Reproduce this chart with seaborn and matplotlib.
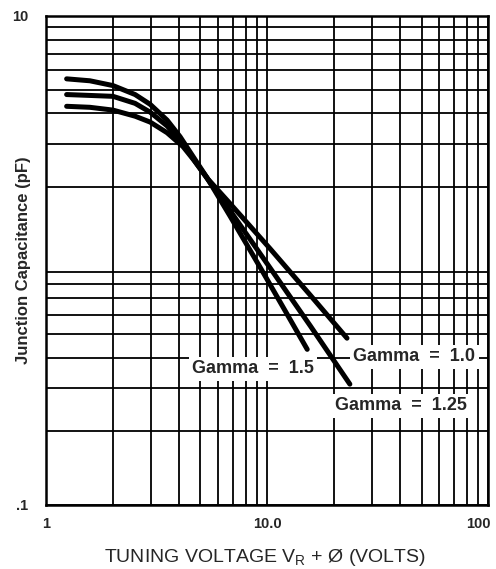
import numpy as np
import pandas as pd
import matplotlib
matplotlib.use("Agg")
import matplotlib.pyplot as plt
import matplotlib.transforms as mtransforms
import seaborn as sns

# Data
v_g150 = [1.24, 1.58, 2.01, 2.53, 2.96, 3.53, 4.04, 4.72, 5.35, 6.8, 9.5, 12.06, 15.2]
c_g150 = [5.53, 5.43, 5.19, 4.77, 4.35, 3.75, 3.21, 2.59, 2.18, 1.52, 0.908, 0.624, 0.433]

v_g125 = [1.24, 1.58, 2.01, 2.53, 2.96, 3.53, 4.17, 4.72, 5.41, 6.8, 10.3, 15.7, 23.7]
c_g125 = [4.77, 4.73, 4.69, 4.39, 4.04, 3.55, 3.01, 2.54, 2.14, 1.60, 0.935, 0.54, 0.312]

v_g100 = [1.24, 1.58, 2.01, 2.53, 2.96, 3.53, 4.17, 4.72, 5.41, 6.8, 10.3, 15.7, 23.0]
c_g100 = [4.27, 4.23, 4.12, 3.89, 3.68, 3.33, 2.92, 2.54, 2.15, 1.71, 1.12, 0.721, 0.481]

curve_names = ["Gamma = 1.5", "Gamma = 1.25", "Gamma = 1.0"]
label_texts = ["Gamma  =  1.5", "Gamma  =  1.0", "Gamma  =  1.25"]
label_x = [8.65, 46.3, 40.4]
label_y = [0.36, 0.404, 0.255]

x_ticks = [1, 10, 100]
x_ticklabels = ["1", "10.0", "100"]
y_ticks = [0.1, 10]
y_ticklabels = [".1", "10"]

frames = []
for name, v, c in zip(curve_names, [v_g150, v_g125, v_g100], [c_g150, c_g125, c_g100]):
    frames.append(pd.DataFrame({"V": v, "C": c, "curve": name}))
df = pd.concat(frames, ignore_index=True)

sns.set_theme(style="white")
plt.rcParams["font.family"] = ["Liberation Sans", "DejaVu Sans"]

fig = plt.figure(figsize=(4.96, 5.69), dpi=100)
ax = fig.add_axes([0.0927, 0.1125, 0.8913, 0.8595])

ax.set_xscale("log")
ax.set_yscale("log")
ax.set_xlim(1, 100)
ax.set_ylim(0.1, 10)

sns.lineplot(data=df, x="V", y="C", hue="curve", units="curve", estimator=None,
             sort=False, palette=["black"] * 3, linewidth=3.6, legend=False,
             ax=ax, zorder=5)
for ln in ax.lines:
    ln.set_solid_capstyle("round")
    ln.set_solid_joinstyle("round")

ax.grid(True, which="both", color="black", linewidth=1.3)
ax.set_axisbelow(True)
for s in ax.spines.values():
    s.set_color("black")
    s.set_linewidth(1.8)

ax.set_xlabel("")
ax.set_ylabel("")
ax.set_xticks(x_ticks)
ax.set_xticklabels(x_ticklabels, fontweight="bold", fontsize=10.5)
ax.xaxis.set_minor_formatter(matplotlib.ticker.NullFormatter())
ax.set_yticks(y_ticks)
ax.set_yticklabels(y_ticklabels, fontweight="bold", fontsize=10.5)
ax.yaxis.set_minor_formatter(matplotlib.ticker.NullFormatter())
ax.tick_params(which="both", length=0)
ax.tick_params(axis="x", pad=9)
ax.tick_params(axis="y", pad=13)
lbls = ax.get_xticklabels()
lbls[-1].set_transform(lbls[-1].get_transform() +
                       mtransforms.ScaledTranslation(-0.1, 0, fig.dpi_scale_trans))

for t, x, y in zip(label_texts, label_x, label_y):
    ax.text(x, y, t, ha="center", va="center", fontsize=13, fontweight="bold",
            zorder=10, bbox=dict(facecolor="white", edgecolor="none", pad=2.5))

fig.text(24 / 496, 1 - 260 / 569, "Junction Capacitance (pF)", rotation=90,
         ha="center", va="center", fontweight="bold", fontsize=12)
fig.text(265 / 496, 1 - 558 / 569, "TUNING VOLTAGE V$_\\mathregular{R}$ + Ø (VOLTS)",
         ha="center", va="center", fontsize=14)

fig.savefig("out.png", dpi=100)
